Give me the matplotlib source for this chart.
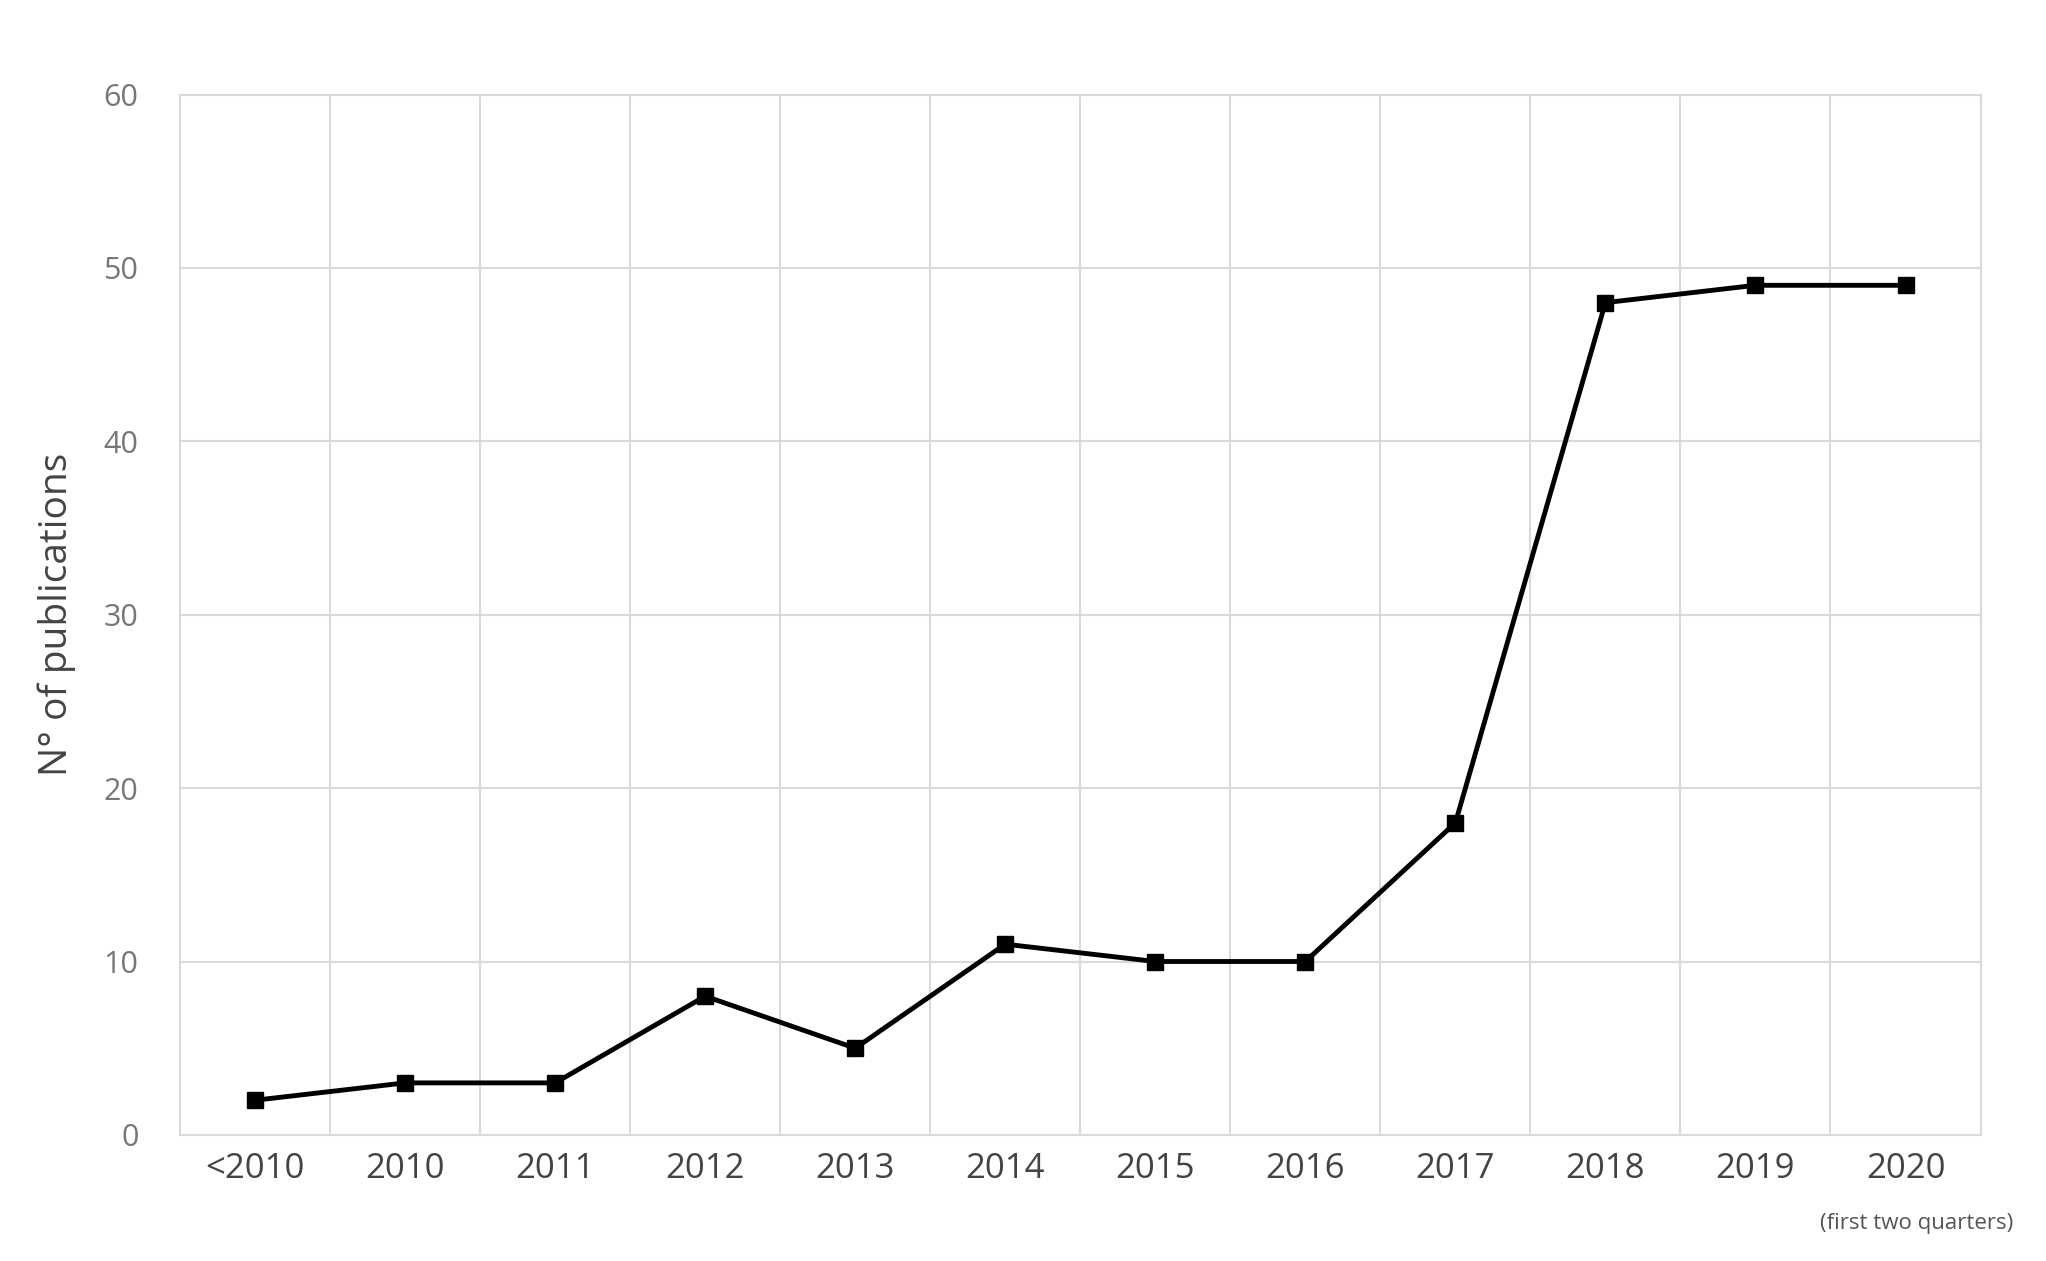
import numpy as np
import matplotlib
matplotlib.use('Agg')
from matplotlib import pyplot as plt

plt.rcParams['font.family'] = ['Open Sans', 'DejaVu Sans']

categories = ['<2010', '2010', '2011', '2012', '2013', '2014', '2015', '2016',
              '2017', '2018', '2019', '2020']
publications = [2, 3, 3, 8, 5, 11, 10, 10, 18, 48, 49, 49]
y_ticks = [0, 10, 20, 30, 40, 50, 60]

fig = plt.figure(figsize=(20.46, 12.61), dpi=100)
ax = fig.add_axes([0.088, 0.1, 0.88, 0.825])

x = np.arange(len(categories))
ax.plot(x, publications, color='black', lw=3.5, marker='s', ms=12, zorder=3)

ax.set_xlim(-0.5, len(categories) - 0.5)
ax.set_ylim(0, 60)
ax.set_yticks(y_ticks)
ax.set_xticks(x)
ax.set_xticklabels(categories, fontsize=25, color='#444444')
ax.tick_params(axis='y', labelsize=22, colors='#777777', length=0, pad=30)
ax.tick_params(axis='x', length=0, pad=12)

for xb in np.arange(0.5, len(categories) - 0.5, 1):
    ax.axvline(xb, color='#d9d9d9', lw=1.5, zorder=1)
ax.yaxis.grid(True, color='#d9d9d9', lw=1.5, zorder=1)
for s in ax.spines.values():
    s.set_color('#d9d9d9')
    s.set_linewidth(1.5)

ax.set_ylabel('N° of publications', fontsize=28, color='#444444', labelpad=20)
ax.text(1.018, -0.075, '(first two quarters)', transform=ax.transAxes,
        ha='right', va='top', fontsize=16, color='#555555')

fig.savefig('out.png', dpi=100)
